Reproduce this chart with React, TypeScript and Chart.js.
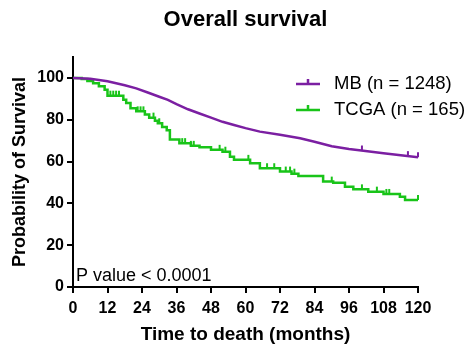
import React, { useEffect, useRef } from "react";
import { Chart, registerables } from "chart.js";
Chart.register(...registerables);

const FONT = '"Liberation Sans", Arial, Helvetica, sans-serif';

const chartTitle = "Overall survival";
const xTitle = "Time to death (months)";
const yTitle = "Probability of Survival";
const pValueText = "P value < 0.0001";

const mbLabel = "MB (n = 1248)";
const tcgaLabel = "TCGA (n = 165)";
const mbColor = "#7b1fa2";
const tcgaColor = "#19c419";

const mbTimes = [0, 6, 12, 18, 22, 26, 30, 33, 36, 40, 44, 48, 52, 56, 60, 65, 72, 79, 84, 90, 96, 101, 108, 114, 120];
const mbSurv = [100, 99.6, 98.4, 96.5, 95, 93, 91, 89.5, 87.5, 85, 83, 81, 79, 77.5, 76, 74.3, 72.8, 71.1, 69.5, 67.3, 66, 65.2, 64, 63, 62];

const tcgaTimes = [0, 3, 5, 7, 9, 11, 12, 17.5, 18.5, 20, 22, 25, 26.5, 28.5, 29.5, 31, 32.6, 33.7, 37, 41, 44, 48, 52, 54.6, 56, 61.6, 65, 72, 76, 78.4, 87, 90.5, 94.6, 97.5, 102.7, 108, 113.7, 115.5, 120];
const tcgaSurv = [100, 99.5, 98.5, 97.5, 96, 94.3, 91.5, 89.5, 88, 85.5, 84, 82.5, 81, 79.5, 78.3, 76.5, 75, 70.5, 68.8, 67.5, 66.8, 65.6, 64.7, 62.3, 60.8, 59.2, 56.8, 55.2, 54.2, 53.1, 50.4, 49.9, 48, 46.7, 45.6, 44.5, 43.2, 41.6, 41.6];

const mbCensor = [100.5, 116.5, 120];
const tcgaCensor = [13, 14, 15, 16, 22.5, 23.5, 24.5, 28, 30, 38, 39, 41, 42, 51, 53, 61, 67.5, 70, 74, 75.5, 77, 90, 100.5, 105.7, 109, 110, 120];

const xTicks = [0, 12, 24, 36, 48, 60, 72, 84, 96, 108, 120];
const yTicks = [0, 20, 40, 60, 80, 100];

function stepValue(times: number[], surv: number[], t: number) {
  let v = surv[0];
  for (let i = 0; i < times.length; i++) {
    if (times[i] <= t) v = surv[i];
  }
  return v;
}
function lerpValue(times: number[], surv: number[], t: number) {
  for (let i = 1; i < times.length; i++) {
    if (t <= times[i]) {
      const f = (t - times[i - 1]) / (times[i] - times[i - 1]);
      return surv[i - 1] + f * (surv[i] - surv[i - 1]);
    }
  }
  return surv[surv.length - 1];
}

const decorPlugin = {
  id: "decor",
  afterDatasetsDraw(chart: any) {
    const ctx = chart.ctx;
    const xs = chart.scales.x;
    const ys = chart.scales.y;
    ctx.save();
    ctx.lineWidth = 2;
    const sets = [
      { c: mbCensor, col: mbColor, f: (t: number) => lerpValue(mbTimes, mbSurv, t) },
      { c: tcgaCensor, col: tcgaColor, f: (t: number) => stepValue(tcgaTimes, tcgaSurv, t) },
    ];
    for (const s of sets) {
      ctx.strokeStyle = s.col;
      for (const t of s.c) {
        const px = xs.getPixelForValue(t);
        const py = ys.getPixelForValue(s.f(t));
        ctx.beginPath();
        ctx.moveTo(px, py);
        ctx.lineTo(px, py - 5);
        ctx.stroke();
      }
    }
    ctx.restore();
  },
  afterDraw(chart: any) {
    const ctx = chart.ctx;
    const a = chart.chartArea;
    ctx.save();
    ctx.fillStyle = "#000";
    ctx.font = `bold 22px ${FONT}`;
    ctx.textAlign = "center";
    ctx.textBaseline = "middle";
    ctx.fillText(chartTitle, (a.left + a.right) / 2, 20);

    ctx.font = `18px ${FONT}`;
    ctx.textAlign = "left";
    ctx.textBaseline = "alphabetic";
    ctx.fillText(pValueText, a.left + 3, a.bottom - 6);

    const items = [
      { label: mbLabel, col: mbColor, y: 84 },
      { label: tcgaLabel, col: tcgaColor, y: 110 },
    ];
    for (const it of items) {
      ctx.strokeStyle = it.col;
      ctx.lineWidth = 2.5;
      ctx.beginPath();
      ctx.moveTo(296, it.y);
      ctx.lineTo(320, it.y);
      ctx.moveTo(308, it.y);
      ctx.lineTo(308, it.y - 5);
      ctx.stroke();
      ctx.fillStyle = "#000";
      ctx.font = `18.5px ${FONT}`;
      ctx.textAlign = "left";
      ctx.textBaseline = "middle";
      ctx.fillText(it.label, 334, it.y);
    }
    ctx.restore();
  },
};

export default function App() {
  const ref = useRef<HTMLCanvasElement | null>(null);
  useEffect(() => {
    if (!ref.current) return;
    Chart.defaults.font.family = FONT;
    const chart = new Chart(ref.current, {
      type: "line",
      data: {
        datasets: [
          {
            label: mbLabel,
            data: mbTimes.map((t, i) => ({ x: t, y: mbSurv[i] })),
            borderColor: mbColor,
            backgroundColor: mbColor,
            borderWidth: 2.5,
            pointRadius: 0,
            tension: 0,
          },
          {
            label: tcgaLabel,
            data: tcgaTimes.map((t, i) => ({ x: t, y: tcgaSurv[i] })),
            borderColor: tcgaColor,
            backgroundColor: tcgaColor,
            borderWidth: 2.5,
            pointRadius: 0,
            stepped: "before",
          },
        ],
      },
      plugins: [decorPlugin],
      options: {
        animation: false,
        responsive: true,
        maintainAspectRatio: false,
        layout: { padding: { top: 57, right: 53, left: 0, bottom: 0 } },
        plugins: { legend: { display: false }, tooltip: { enabled: false }, title: { display: false } },
        scales: {
          x: {
            type: "linear",
            min: 0,
            max: 120,
            afterBuildTicks: (s: any) => {
              s.ticks = xTicks.map((v) => ({ value: v }));
            },
            afterFit: (s: any) => {
              s.height = 62;
            },
            grid: { display: true, drawOnChartArea: false, drawTicks: true, tickLength: 6, color: "#000", lineWidth: 2 },
            border: { display: true, color: "#000", width: 2 },
            ticks: { color: "#000", font: { size: 16, weight: "bold" }, padding: 6, autoSkip: false, maxRotation: 0 },
            title: { display: true, text: xTitle, color: "#000", font: { size: 19, weight: "bold" }, padding: { top: 0, bottom: 3 } },
          },
          y: {
            type: "linear",
            min: 0,
            max: 110,
            afterBuildTicks: (s: any) => {
              s.ticks = yTicks.map((v) => ({ value: v }));
            },
            afterFit: (s: any) => {
              s.width = 73;
            },
            grid: { display: true, drawOnChartArea: false, drawTicks: true, tickLength: 6, color: "#000", lineWidth: 2 },
            border: { display: true, color: "#000", width: 2 },
            ticks: { color: "#000", font: { size: 16, weight: "bold" }, padding: 3 },
            title: { display: true, text: yTitle, color: "#000", font: { size: 18, weight: "bold" }, padding: { top: 9, bottom: 0 } },
          },
        },
      },
    } as any);
    return () => chart.destroy();
  }, []);
  return (
    <div style={{ position: "fixed", left: 0, top: 0, width: 471, height: 349 }}>
      <canvas ref={ref} />
    </div>
  );
}
